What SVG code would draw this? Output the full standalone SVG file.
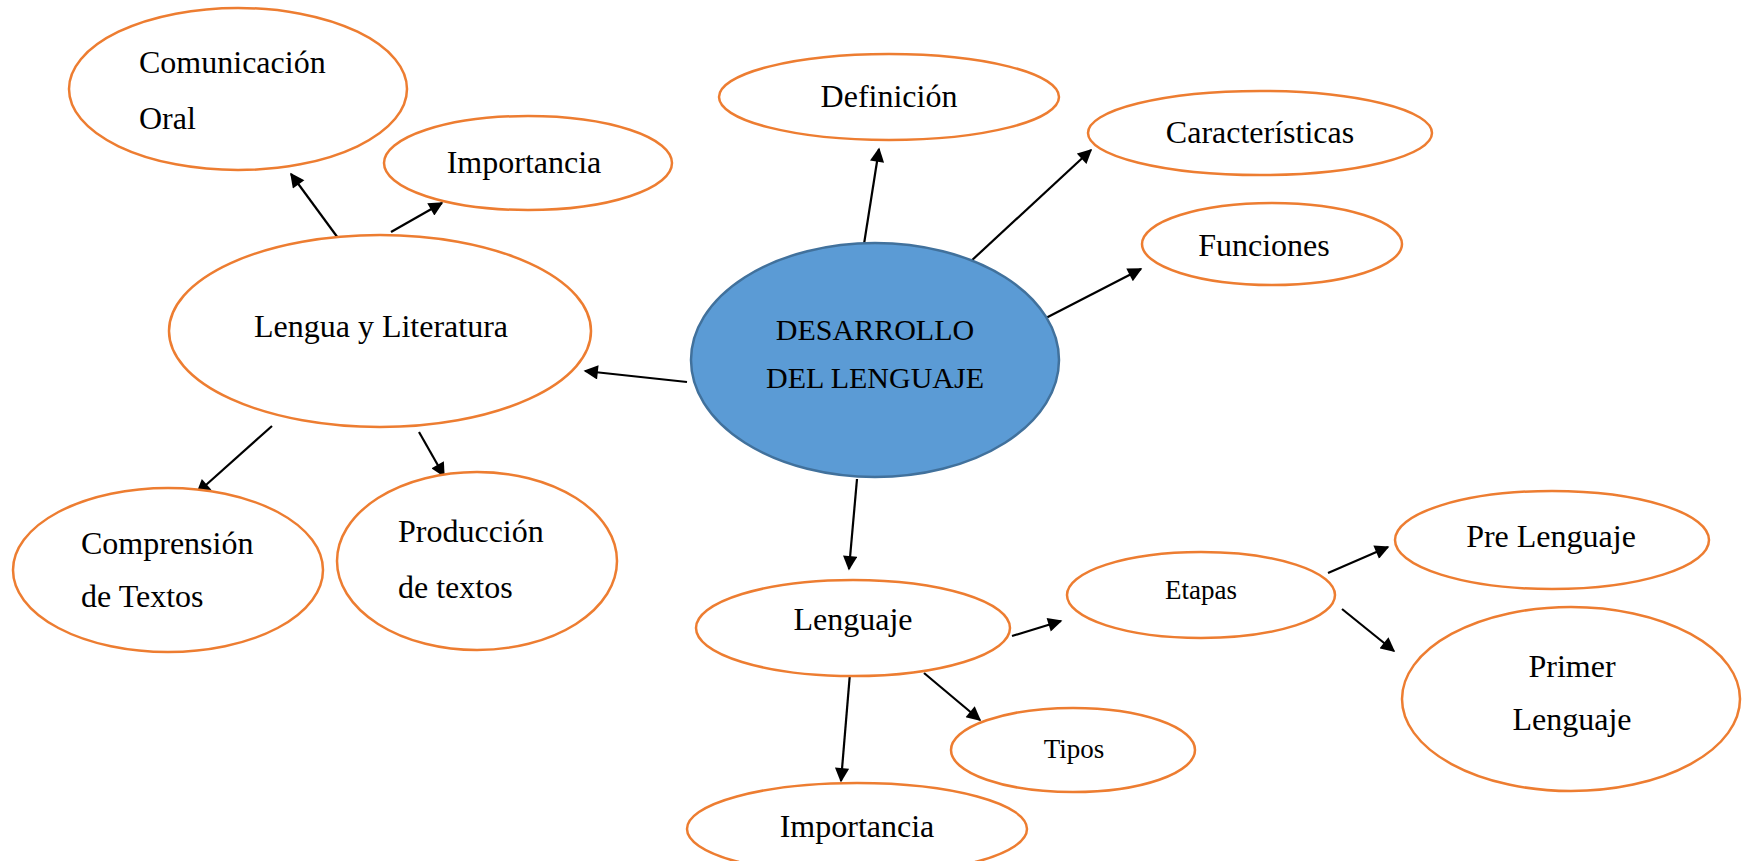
<svg xmlns="http://www.w3.org/2000/svg" width="1742" height="861" viewBox="0 0 1742 861">
<defs>
<marker id="ah" viewBox="0 0 10 10" refX="9" refY="5" markerWidth="7" markerHeight="6.5" orient="auto" markerUnits="strokeWidth">
<path d="M0,0 L10,5 L0,10 z" fill="#000"/>
</marker>
<style>
.n{fill:#fff;stroke:#ED7D31;stroke-width:2.5}
.c{fill:#5B9BD5;stroke:#41719C;stroke-width:2.5}
text{font-family:"Liberation Serif","Times New Roman",serif;fill:#000;font-size:32px}
.m{text-anchor:middle}
.s{font-size:27px}
.d{font-size:30px}
#connectors line{stroke:#000;stroke-width:2.2;marker-end:url(#ah)}
</style>
</defs>
<rect width="1742" height="861" fill="#fff"/>
<g id="connectors">
<line x1="687" y1="382" x2="585" y2="371"/>
<line x1="338" y1="238" x2="291" y2="174"/>
<line x1="391" y1="232" x2="442" y2="203"/>
<line x1="272" y1="426" x2="197" y2="493"/>
<line x1="419" y1="432" x2="444" y2="476"/>
<line x1="864" y1="244" x2="879" y2="149"/>
<line x1="970" y1="262" x2="1091" y2="150"/>
<line x1="1042" y1="320" x2="1141" y2="269"/>
<line x1="857" y1="479" x2="849" y2="569"/>
<line x1="1012" y1="636" x2="1061" y2="621"/>
<line x1="850" y1="673" x2="841" y2="781"/>
<line x1="924" y1="673" x2="980" y2="720"/>
<line x1="1328" y1="573" x2="1388" y2="547"/>
<line x1="1342" y1="609" x2="1394" y2="651"/>
</g>
<g id="comunicacion"><ellipse class="n" cx="238" cy="89" rx="169" ry="81"/><text x="139" y="73">Comunicación</text><text x="139" y="129">Oral</text></g>
<g id="importancia1"><ellipse class="n" cx="528" cy="163" rx="144" ry="47"/><text class="m" x="524" y="173">Importancia</text></g>
<g id="lengua-literatura"><ellipse class="n" cx="380" cy="331" rx="211" ry="96"/><text class="m" x="381" y="337">Lengua y Literatura</text></g>
<g id="definicion"><ellipse class="n" cx="889" cy="97" rx="170" ry="43"/><text class="m" x="889" y="107">Definición</text></g>
<g id="caracteristicas"><ellipse class="n" cx="1260" cy="133" rx="172" ry="42"/><text class="m" x="1260" y="143">Características</text></g>
<g id="funciones"><ellipse class="n" cx="1272" cy="244" rx="130" ry="41"/><text class="m" x="1264" y="256">Funciones</text></g>
<g id="desarrollo"><ellipse class="c" cx="875" cy="360" rx="184" ry="117"/><text class="m d" x="875" y="340">DESARROLLO</text><text class="m d" x="875" y="388">DEL LENGUAJE</text></g>
<g id="comprension"><ellipse class="n" cx="168" cy="570" rx="155" ry="82"/><text x="81" y="554">Comprensión</text><text x="81" y="607">de Textos</text></g>
<g id="produccion"><ellipse class="n" cx="477" cy="561" rx="140" ry="89"/><text x="398" y="542">Producción</text><text x="398" y="598">de textos</text></g>
<g id="lenguaje"><ellipse class="n" cx="853" cy="628" rx="157" ry="48"/><text class="m" x="853" y="630">Lenguaje</text></g>
<g id="etapas"><ellipse class="n" cx="1201" cy="595" rx="134" ry="43"/><text class="m s" x="1201" y="599">Etapas</text></g>
<g id="pre-lenguaje"><ellipse class="n" cx="1552" cy="540" rx="157" ry="49"/><text class="m" x="1551" y="547">Pre Lenguaje</text></g>
<g id="primer-lenguaje"><ellipse class="n" cx="1571" cy="699" rx="169" ry="92"/><text class="m" x="1572" y="677">Primer</text><text class="m" x="1572" y="730">Lenguaje</text></g>
<g id="tipos"><ellipse class="n" cx="1073" cy="750" rx="122" ry="42"/><text class="m s" x="1074" y="758">Tipos</text></g>
<g id="importancia2"><ellipse class="n" cx="857" cy="829" rx="170" ry="46"/><text class="m" x="857" y="837">Importancia</text></g>
</svg>
